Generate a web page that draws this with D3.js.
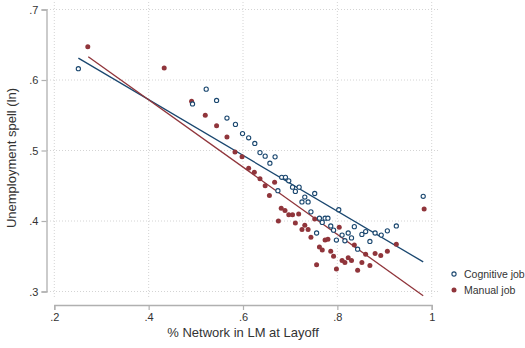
<!doctype html>
<html>
<head>
	<title>Unemployment spell vs network</title>
	<script src="https://d3js.org/d3.v7.min.js"></script>
	<style>
	body { margin: 0; background: #fff; }
	svg text { font-family: "Liberation Sans", Arial, sans-serif; fill: #333; }
	</style>
</head>
<body>
<script>

// binned points
var cogX = [0.251, 0.493, 0.522, 0.544, 0.566, 0.584, 0.599, 0.612, 0.625, 0.636,
	0.647, 0.668, 0.657, 0.682, 0.690, 0.697, 0.705, 0.719, 0.711, 0.674,
	0.752, 0.731, 0.725, 0.738, 0.744, 0.803, 0.762, 0.774, 0.780, 0.768,
	0.786, 0.836, 0.792, 0.823, 0.810, 0.860, 0.852, 0.880, 0.893, 0.906,
	0.925, 0.756, 0.798, 0.816, 0.830, 0.843, 0.869, 0.982];
var cogY = [0.616, 0.566, 0.587, 0.571, 0.546, 0.537, 0.524, 0.518, 0.510, 0.497,
	0.492, 0.491, 0.482, 0.462, 0.462, 0.457, 0.448, 0.448, 0.442, 0.443,
	0.439, 0.434, 0.427, 0.427, 0.413, 0.416, 0.404, 0.404, 0.404, 0.398,
	0.393, 0.392, 0.387, 0.383, 0.380, 0.385, 0.381, 0.383, 0.380, 0.386,
	0.393, 0.383, 0.373, 0.372, 0.376, 0.360, 0.371, 0.435];

var manX = [0.271, 0.433, 0.491, 0.520, 0.544, 0.566, 0.583, 0.598, 0.612, 0.624,
	0.636, 0.667, 0.647, 0.656, 0.681, 0.689, 0.697, 0.705, 0.718, 0.675,
	0.711, 0.731, 0.752, 0.725, 0.738, 0.744, 0.804, 0.762, 0.768, 0.774,
	0.780, 0.786, 0.792, 0.756, 0.798, 0.810, 0.816, 0.823, 0.830, 0.836,
	0.843, 0.852, 0.860, 0.869, 0.880, 0.892, 0.906, 0.925, 0.984];
var manY = [0.647, 0.617, 0.570, 0.550, 0.535, 0.519, 0.498, 0.491, 0.475, 0.469,
	0.460, 0.455, 0.450, 0.436, 0.418, 0.415, 0.409, 0.409, 0.410, 0.400,
	0.397, 0.394, 0.403, 0.388, 0.388, 0.377, 0.391, 0.363, 0.359, 0.373,
	0.374, 0.357, 0.350, 0.338, 0.332, 0.344, 0.341, 0.348, 0.344, 0.366,
	0.330, 0.341, 0.353, 0.337, 0.354, 0.351, 0.357, 0.367, 0.417];

// linear fit end points [x, y]
var fitCog = [[0.251, 0.631], [0.982, 0.342]];
var fitMan = [[0.272, 0.633], [0.982, 0.294]];

var xTicks = [0.2, 0.4, 0.6, 0.8, 1];
var yTicks = [0.3, 0.4, 0.5, 0.6, 0.7];
var legendLabels = ["Cognitive job", "Manual job"];

var BLUE = "#1a476f";
var RED = "#90353b";

var svg = d3.select("body").append("svg")
	.attr("width", 525)
	.attr("height", 348);

// scales
var xScale = d3.scaleLinear().domain([0.2, 1]).range([54.3, 431.7]);
var yScale = d3.scaleLinear().domain([0.3, 0.7]).range([291.5, 9.5]);

// tick label format like stata: .2 .4 ... 1
function fmt(d) {
	var s = d3.format("~g")(d);
	return s.replace(/^0\./, ".");
}

// grid
var grid = svg.append("g").attr("class", "grid");
grid.selectAll(".gx").data(xTicks).enter().append("line")
	.attr("x1", function(d) { return xScale(d); })
	.attr("x2", function(d) { return xScale(d); })
	.attr("y1", 2).attr("y2", 299)
	.attr("stroke", "#d4d4d4").attr("stroke-width", 1)
	.attr("stroke-dasharray", "1,2");
grid.selectAll(".gy").data(yTicks).enter().append("line")
	.attr("y1", function(d) { return yScale(d); })
	.attr("y2", function(d) { return yScale(d); })
	.attr("x1", 47).attr("x2", 440)
	.attr("stroke", "#d4d4d4").attr("stroke-width", 1)
	.attr("stroke-dasharray", "1,2");

// axes
var xAxis = d3.axisBottom(xScale).tickValues(xTicks).tickFormat(fmt).tickSizeOuter(0).tickSize(5).tickPadding(3);
var yAxis = d3.axisLeft(yScale).tickValues(yTicks).tickFormat(fmt).tickSizeOuter(0).tickSize(5).tickPadding(3);

var gx = svg.append("g").attr("transform", "translate(0,305)").call(xAxis);
var gy = svg.append("g").attr("transform", "translate(46.5,0)").call(yAxis);

[gx, gy].forEach(function(g) {
	g.select(".domain").attr("stroke", "#b0b0b0").attr("stroke-width", 1.3);
	g.selectAll(".tick line").attr("stroke", "#b0b0b0").attr("stroke-width", 1.2);
	g.selectAll(".tick text").attr("font-size", 11).style("fill", "#333");
});

// fit lines
var line = d3.line()
	.x(function(d) { return xScale(d[0]); })
	.y(function(d) { return yScale(d[1]); });

svg.append("path").attr("d", line(fitCog))
	.attr("fill", "none").attr("stroke", BLUE).attr("stroke-width", 1.3);
svg.append("path").attr("d", line(fitMan))
	.attr("fill", "none").attr("stroke", RED).attr("stroke-width", 1.3);

// points
svg.append("g").selectAll("circle").data(manX).enter().append("circle")
	.attr("cx", function(d) { return xScale(d); })
	.attr("cy", function(d, i) { return yScale(manY[i]); })
	.attr("r", 2.5)
	.attr("fill", RED);

svg.append("g").selectAll("circle").data(cogX).enter().append("circle")
	.attr("cx", function(d) { return xScale(d); })
	.attr("cy", function(d, i) { return yScale(cogY[i]); })
	.attr("r", 2.1)
	.attr("fill", "#fff")
	.attr("stroke", BLUE)
	.attr("stroke-width", 1.1);

// axis titles
svg.append("text")
	.attr("x", 243).attr("y", 337)
	.attr("text-anchor", "middle")
	.attr("font-size", 13)
	.text("% Network in LM at Layoff");

svg.append("text")
	.attr("transform", "translate(16,158) rotate(-90)")
	.attr("text-anchor", "middle")
	.attr("font-size", 13)
	.text("Unemployment spell (ln)");

// legend
var legend = svg.append("g").attr("transform", "translate(454,274)");
legend.append("circle").attr("cx", 0).attr("cy", 0).attr("r", 2.1)
	.attr("fill", "#fff").attr("stroke", BLUE).attr("stroke-width", 1.1);
legend.append("circle").attr("cx", 0).attr("cy", 16).attr("r", 2.5)
	.attr("fill", RED);
legend.selectAll("text").data(legendLabels).enter().append("text")
	.attr("x", 10)
	.attr("y", function(d, i) { return i * 16 + 4; })
	.attr("font-size", 10.5)
	.text(function(d) { return d; });

</script>
</body>
</html>
